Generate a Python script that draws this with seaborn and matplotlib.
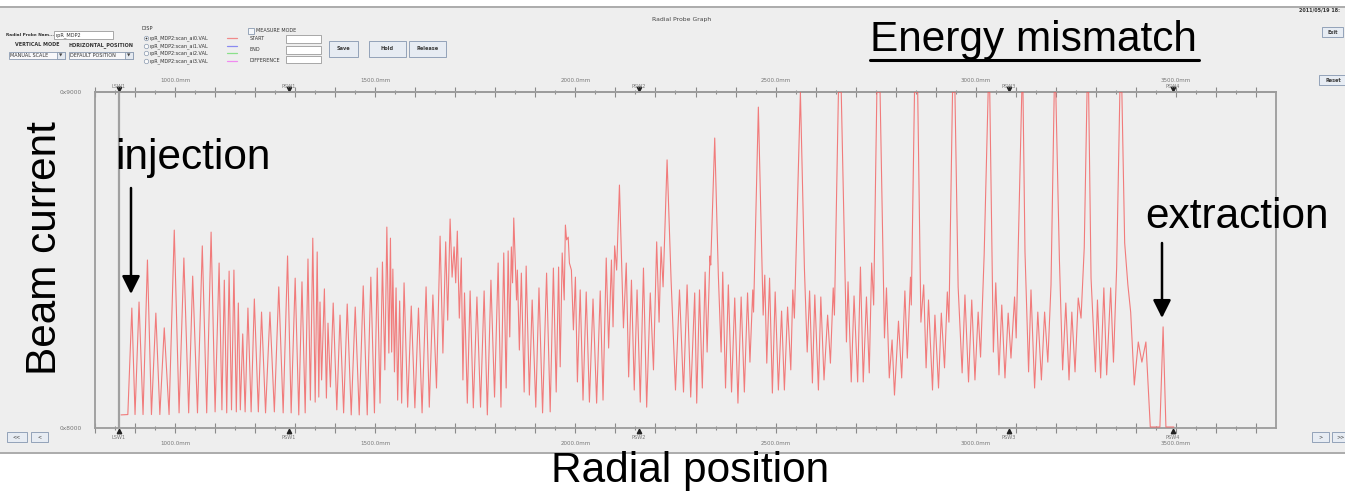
import matplotlib
matplotlib.use("Agg")
import matplotlib.pyplot as plt
import seaborn as sns
from matplotlib.patches import Rectangle, FancyArrowPatch, ArrowStyle
from matplotlib.lines import Line2D
from matplotlib.ticker import FixedLocator, FuncFormatter

# ---------------- data ----------------
position_mm = [
    865, 882, 892, 900, 910, 920, 931, 941, 952, 962, 973, 985, 998, 1010, 1022, 1034, 1044, 1056,
    1068, 1079, 1090, 1100, 1110, 1117, 1123, 1129, 1135, 1141, 1147, 1153, 1158, 1163, 1169, 1175,
    1182, 1190, 1198, 1208, 1216, 1226, 1237, 1248, 1259, 1270, 1281, 1290, 1300, 1309, 1317, 1325,
    1332, 1338, 1344, 1350, 1355, 1359, 1362, 1366, 1373, 1378, 1382, 1388, 1395, 1404, 1412, 1421,
    1430, 1440, 1450, 1460, 1470, 1480, 1489, 1498, 1505, 1512, 1518, 1524, 1529, 1534, 1538, 1541,
    1544, 1548, 1552, 1556, 1561, 1566, 1572, 1581, 1590, 1599, 1608, 1617, 1627, 1635, 1644, 1653,
    1662, 1669, 1676, 1681, 1687, 1692, 1697, 1701, 1705, 1710, 1715, 1719, 1723, 1730, 1737, 1745,
    1754, 1763, 1772, 1780, 1789, 1798, 1807, 1814, 1821, 1827, 1832, 1836, 1840, 1843, 1846, 1853,
    1855, 1860, 1865, 1872, 1877, 1885, 1892, 1901, 1909, 1918, 1928, 1937, 1945, 1952, 1958, 1962,
    1967, 1972, 1975, 1978, 1982, 1985, 1990, 1995, 2000, 2005, 2012, 2019, 2027, 2035, 2044, 2053,
    2062, 2069, 2077, 2083, 2090, 2094, 2098, 2103, 2110, 2120, 2127, 2133, 2140, 2147, 2154, 2162,
    2170, 2178, 2187, 2195, 2203, 2209, 2214, 2219, 2229, 2239, 2250, 2260, 2270, 2279, 2288, 2298,
    2303, 2310, 2317, 2324, 2329, 2336, 2338, 2348, 2357, 2364, 2368, 2375, 2382, 2390, 2398, 2406,
    2414, 2422, 2430, 2436, 2443, 2445, 2457, 2469, 2473, 2478, 2485, 2492, 2499, 2507, 2515, 2522,
    2530, 2538, 2543, 2547, 2562, 2572, 2579, 2585, 2592, 2598, 2607, 2613, 2621, 2630, 2637, 2644,
    2647, 2657, 2664, 2677, 2681, 2689, 2696, 2705, 2712, 2719, 2727, 2734, 2740, 2745, 2753, 2761,
    2772, 2777, 2784, 2791, 2797, 2807, 2815, 2823, 2829, 2837, 2839, 2847, 2855, 2863, 2870, 2876,
    2882, 2892, 2898, 2907, 2914, 2922, 2929, 2933, 2942, 2948, 2956, 2966, 2973, 2982, 2990, 2998,
    3006, 3012, 3021, 3031, 3035, 3044, 3050, 3058, 3065, 3073, 3081, 3088, 3097, 3101, 3115, 3118,
    3123, 3132, 3138, 3147, 3155, 3164, 3172, 3180, 3188, 3196, 3200, 3209, 3217, 3225, 3233, 3240,
    3248, 3256, 3263, 3271, 3278, 3282, 3288, 3299, 3304, 3312, 3320, 3327, 3337, 3344, 3352, 3360,
    3365, 3372, 3380, 3387, 3396, 3406, 3415, 3425, 3436, 3460, 3468, 3475, 3495,
]
current_pct = [
    3.9, 4.0, 35.7, 4.0, 37.5, 4.0, 50.0, 4.0, 34.2, 4.0, 29.8, 4.0, 58.9, 4.5, 50.6, 4.5, 45.2, 4.5,
    54.2, 4.5, 58.3, 4.8, 49.1, 5.4, 44.0, 4.5, 46.7, 5.4, 47.0, 4.8, 37.2, 5.4, 28.0, 4.8,
    35.7, 4.8, 38.4, 4.8, 34.5, 4.5, 34.5, 4.8, 42.0, 4.5, 51.2, 4.5, 44.6, 3.9, 43.5, 4.5,
    50.3, 8.3, 56.5, 7.7, 52.4, 9.2, 37.5, 14.3, 41.4, 8.9, 31.2, 12.2, 37.2, 5.4, 33.6, 4.5,
    36.9, 3.9, 36.0, 3.9, 42.3, 3.9, 44.9, 4.5, 47.6, 7.4, 49.4, 17.3, 59.8, 22.3, 56.5, 22.6,
    47.3, 16.7, 41.7, 8.3, 37.8, 7.4, 43.2, 6.2, 36.3, 6.0, 35.7, 4.5, 42.0, 6.2, 39.6, 11.9,
    57.1, 22.3, 55.4, 32.1, 62.2, 44.9, 53.9, 43.2, 58.6, 32.7, 50.6, 14.3, 40.2, 7.4, 40.8, 6.0,
    39.0, 6.2, 40.8, 3.9, 44.0, 9.2, 49.1, 6.2, 52.1, 11.9, 52.7, 27.1, 53.9, 43.2, 62.5, 38.1,
    47.0, 23.2, 46.1, 10.7, 48.2, 9.8, 38.1, 6.2, 41.7, 4.5, 46.1, 4.8, 47.6, 10.7, 47.9, 18.2,
    52.1, 38.1, 60.4, 56.0, 56.8, 49.1, 47.0, 29.2, 44.9, 13.7, 41.1, 8.3, 40.5, 7.7, 38.4, 7.4,
    40.8, 8.3, 50.6, 23.8, 50.0, 30.1, 54.2, 47.0, 72.3, 29.8, 49.1, 15.2, 44.0, 11.3, 41.1, 7.7,
    47.6, 6.2, 40.2, 17.3, 55.4, 31.5, 53.9, 42.0, 79.8, 44.0, 11.3, 41.1, 10.7, 42.6, 9.2, 40.2,
    7.4, 41.1, 11.9, 46.4, 22.6, 51.2, 48.5, 86.3, 45.5, 22.6, 46.4, 11.9, 42.6, 10.7, 38.7, 7.4,
    39.0, 10.7, 40.2, 19.6, 41.1, 34.5, 95.5, 33.6, 45.5, 19.3, 44.6, 10.4, 40.5, 11.3, 34.8, 11.3,
    36.0, 17.3, 41.1, 32.7, 100.0, 47.6, 22.6, 40.8, 13.4, 39.6, 11.3, 39.0, 14.3, 33.6, 19.3, 41.7,
    33.6, 100.0, 100.0, 25.6, 43.5, 13.7, 39.3, 13.7, 47.9, 13.7, 39.0, 16.4, 49.1, 36.6, 100.0, 100.0,
    26.8, 41.7, 14.9, 26.2, 9.8, 31.8, 14.9, 40.8, 20.8, 44.9, 36.6, 100.0, 100.0, 31.5, 42.6, 17.9,
    38.1, 11.3, 33.6, 11.9, 34.2, 17.9, 40.5, 31.5, 100.0, 100.0, 42.0, 16.4, 39.6, 13.7, 38.1, 14.3,
    34.5, 21.1, 51.5, 100.0, 100.0, 22.6, 43.2, 15.8, 36.6, 14.9, 34.2, 20.8, 39.0, 26.8, 100.0, 100.0,
    52.4, 16.7, 41.1, 11.9, 34.5, 14.3, 34.5, 19.6, 42.6, 100.0, 100.0, 50.0, 17.3, 37.2, 14.3, 34.5,
    16.7, 38.7, 32.7, 53.6, 100.0, 100.0, 44.6, 16.7, 38.1, 14.9, 41.7, 15.8, 41.7, 19.6, 47.9, 100.0,
    100.0, 55.1, 42.6, 34.5, 12.8, 25.6, 19.6, 25.6, 0.3, 0.3, 30.1, 0.3, 0.3,
]
major_ticks_mm = list(range(800, 3751, 100))
minor_ticks_mm = list(range(850, 3750, 100))
y_tick_values = [0, 100]
y_tick_labels = ["0x8000", "0x9000"]
switch_names = ["LSW1", "PSW1", "PSW2", "PSW3", "PSW4"]
switch_mm = [860, 1285, 2159, 3082, 3493]
channel_names = ["rpR_MDP2:scan_ai0.VAL", "rpR_MDP2:scan_ai1.VAL",
                 "rpR_MDP2:scan_ai2.VAL", "rpR_MDP2:scan_ai3.VAL"]
channel_colors = ["#f08a8a", "#8a8af0", "#8ae08a", "#f08af0"]

# ---------------- figure ----------------
sns.set_theme(style="white")
plt.rcParams["font.family"] = ["DejaVu Sans"]

W, H = 1345, 494
fig = plt.figure(figsize=(13.45, 4.94), dpi=100, facecolor="white")


def fx(x):
    return x / W


def fy(y):
    return 1 - y / H


def rect(x0, y0, x1, y1, fc, ec="#8c8c8c", lw=0.6, z=1):
    fig.add_artist(Rectangle((fx(x0), fy(y1)), fx(x1) - fx(x0), fy(y0) - fy(y1),
                             transform=fig.transFigure, fc=fc, ec=ec, lw=lw, zorder=z))


def txt(x, y, s, size=3.8, ha="left", va="center", color="#333333", **kw):
    fig.text(fx(x), fy(y), s, fontsize=size, ha=ha, va=va, color=color, **kw)


def hline(x0, x1, y, color, lw):
    fig.add_artist(Line2D([fx(x0), fx(x1)], [fy(y), fy(y)], transform=fig.transFigure,
                          color=color, lw=lw))


def dot(x, y, ms, fc, ec, mew=0.5):
    fig.add_artist(Line2D([fx(x)], [fy(y)], transform=fig.transFigure, marker="o", ms=ms,
                          mfc=fc, mec=ec, mew=mew, ls="none"))


# screenshot panel
rect(0, 8, W, 452, "#eeeeee", ec="none", z=0)
hline(0, W, 7, "#a5a5a5", 1.3)
hline(0, W, 453, "#a5a5a5", 1.3)

# ---------------- plot area ----------------
ax = fig.add_axes([fx(95), fy(428), fx(1276) - fx(95), fy(92) - fy(428)])
ax.set_facecolor("#eeeeee")
ax.axvline(switch_mm[0], color="#a0a0a0", lw=1.6, zorder=1)
sns.lineplot(x=position_mm, y=current_pct, ax=ax, color="#f25e5e", lw=0.8, alpha=0.8,
             sort=False, estimator=None, zorder=3)
ax.set_xlim(800, 3750)
ax.set_ylim(0, 100)
ax.set_xlabel("")
ax.set_ylabel("")
for sp in ax.spines.values():
    sp.set_color("#9c9c9c")
    sp.set_linewidth(1.3)

fmt = FuncFormatter(lambda v, p: f"{v:.1f}mm" if int(round(v)) % 500 == 0 else "")
ax.xaxis.set_major_locator(FixedLocator(major_ticks_mm))
ax.xaxis.set_minor_locator(FixedLocator(minor_ticks_mm))
ax.xaxis.set_major_formatter(fmt)
ax.tick_params(axis="x", which="major", direction="inout", length=6.5, width=0.8, color="#8a8a8a",
               bottom=True, top=False, labelbottom=True, labeltop=False, labelsize=4,
               labelcolor="#777777", pad=6.3)
ax.tick_params(axis="x", which="minor", direction="inout", length=3, width=0.8, color="#8a8a8a",
               bottom=True, top=False)
ax.set_yticks(y_tick_values)
ax.set_yticklabels(y_tick_labels)
ax.tick_params(axis="y", length=0, pad=9.5, labelsize=4.2, labelcolor="#777777", left=True)

sec = ax.secondary_xaxis("top")
sec.xaxis.set_major_locator(FixedLocator(major_ticks_mm))
sec.xaxis.set_minor_locator(FixedLocator(minor_ticks_mm))
sec.xaxis.set_major_formatter(fmt)
sec.tick_params(axis="x", which="major", direction="inout", length=6.5, width=0.8, color="#8a8a8a",
                top=True, labeltop=True, labelsize=4, labelcolor="#777777", pad=3.4)
sec.tick_params(axis="x", which="minor", direction="inout", length=3, width=0.8, color="#8a8a8a",
                top=True)
for sp in sec.spines.values():
    sp.set_color("#9c9c9c")
    sp.set_linewidth(1.3)

trans = ax.get_xaxis_transform()
for name, pos in zip(switch_names, switch_mm):
    ax.plot([pos], [1.008], marker="v", ms=3.2, color="#222222", transform=trans, clip_on=False)
    ax.plot([pos], [-0.008], marker="^", ms=3.2, color="#222222", transform=trans, clip_on=False)
    ax.text(pos, 1.017, name, transform=trans, fontsize=3.6, color="#777777", ha="center", va="center")
    ax.text(pos, -0.029, name, transform=trans, fontsize=3.6, color="#777777", ha="center", va="center")

# ---------------- header / widgets ----------------
txt(682, 19, "Radial Probe Graph", size=4.4, ha="center", color="#444444")
txt(1299, 10, "2011/05/19 18:", size=3.5, weight="bold", color="#333333")

txt(6, 35, "Radial Probe Nam...", size=3.1, weight="bold")
rect(54, 31, 113, 39, "white", ec="#9a9a9a")
txt(56, 35, "rpR_MDP2", size=3.6)
txt(37.5, 45, "VERTICAL MODE", size=3.5, ha="center", weight="bold")
txt(101, 45, "HORIZONTAL_POSITION", size=3.5, ha="center", weight="bold")
rect(9, 52, 65, 59, "#f8f8fa", ec="#8a9ab0")
txt(10.5, 55.5, "MANUAL SCALE", size=3.5)
rect(57, 52, 65, 59, "#e4e9f0", ec="#8a9ab0")
txt(61, 55.7, "▼", size=3.2, ha="center", color="#444444")
rect(69, 52, 133, 59, "#f8f8fa", ec="#8a9ab0")
txt(70.5, 55.5, "DEFAULT POSITION", size=3.5)
rect(125, 52, 133, 59, "#e4e9f0", ec="#8a9ab0")
txt(129, 55.7, "▼", size=3.2, ha="center", color="#444444")

txt(142, 29, "DISP", size=3.6)
for i, (cname, ccol) in enumerate(zip(channel_names, channel_colors)):
    yy = [38, 45.7, 53.3, 61][i]
    dot(146, yy, 3.2, "#fafafa", "#8a9ab0")
    if i == 0:
        dot(146, yy, 1.3, "#333333", "#333333", mew=0)
    txt(150, yy, cname, size=3.5)
    hline(227, 237, yy, ccol, 0.9)

rect(248, 28, 254, 34, "#f5f7fa", ec="#8a9ab0")
txt(256, 31, "MEASURE MODE", size=3.5)
txt(250, 39, "START", size=3.5)
txt(250, 49.5, "END", size=3.5)
txt(250, 60, "DIFFERENCE", size=3.5)
rect(286, 35, 321, 43, "white", ec="#9a9a9a")
rect(286, 46, 321, 54, "white", ec="#9a9a9a")
rect(286, 56, 321, 63, "white", ec="#9a9a9a")

for (x0, x1, lab) in [(329, 358, "Save"), (369, 406, "Hold"), (409, 446, "Release")]:
    rect(x0, 41, x1, 57, "#e7ecf3", ec="#8597b0")
    txt((x0 + x1) / 2, 49, lab, size=3.6, ha="center", weight="bold", color="#3a3a3a")

rect(1322, 27, 1343, 37, "#e7ecf3", ec="#8597b0")
txt(1332.5, 32, "Exit", size=3.5, ha="center", weight="bold", color="#3a3a3a")
rect(1319, 75, 1347, 85, "#e7ecf3", ec="#8597b0")
txt(1333, 80, "Reset", size=3.5, ha="center", weight="bold", color="#3a3a3a")
for (x0, x1, lab) in [(7, 27, "<<"), (31, 48, "<"), (1312, 1329, ">"), (1332, 1350, ">>")]:
    rect(x0, 432, x1, 442, "#e7ecf3", ec="#8597b0")
    txt((x0 + x1) / 2, 437, lab, size=3.5, ha="center", color="#3a3a3a")

# ---------------- slide annotations ----------------
big = dict(family=["Liberation Sans", "DejaVu Sans"], fontsize=30.5, color="black")
fig.text(fx(870), fy(51), "Energy mismatch", ha="left", va="baseline", **big)
hline(870, 1199, 60.5, "black", 2.2)
fig.text(fx(45), fy(248), "Beam current", ha="center", va="center", rotation=90, **big)
fig.text(fx(115), fy(169), "injection", ha="left", va="baseline", **big)
fig.text(fx(1145), fy(228), "extraction", ha="left", va="baseline", **big)
fig.text(fx(690), fy(482), "Radial position", ha="center", va="baseline", **big)

head = ArrowStyle("-|>", head_length=0.4, head_width=0.2)
for (x, y0, y1) in [(131, 188, 294), (1162, 243, 318)]:
    fig.add_artist(FancyArrowPatch((fx(x), fy(y0)), (fx(x), fy(y1)), transform=fig.transFigure,
                                   arrowstyle=head, mutation_scale=27, lw=1.8, color="black",
                                   shrinkA=0, shrinkB=0))

fig.savefig("out.png", dpi=100, facecolor="white")
